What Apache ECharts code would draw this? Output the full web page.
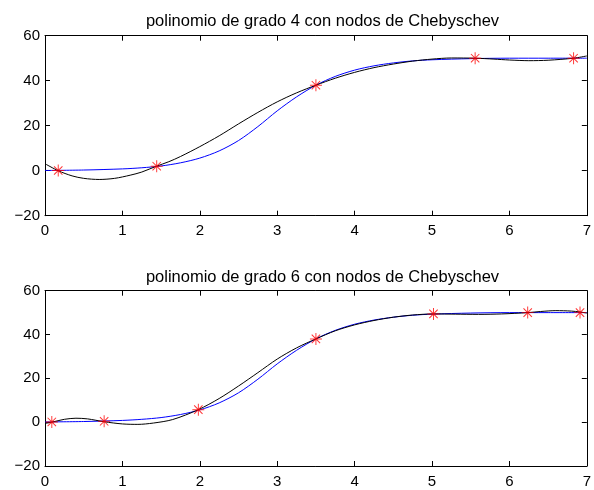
<!DOCTYPE html>
<html>
<head>
<meta charset="utf-8">
<script src="https://cdn.jsdelivr.net/npm/echarts@6/dist/echarts.min.js"></script>
<style>html,body{margin:0;padding:0;background:#fff}#c{width:594px;height:490px}</style>
</head>
<body>
<div id="c"></div>
<script>
// Data
const titles = ['polinomio de grado 4 con nodos de Chebyschev', 'polinomio de grado 6 con nodos de Chebyschev'];
const xTicks = [0, 1, 2, 3, 4, 5, 6, 7];
const yTicks = [-20, 0, 20, 40, 60];

// blue: original function (same in both panels)
const fX = [0, 0.5, 1, 1.25, 1.5, 1.75, 2, 2.25, 2.5, 2.75, 3, 3.25, 3.5, 3.75, 4, 4.25, 4.5, 4.75, 5, 5.5, 6, 6.5, 7];
const fY = [0.1, 0.3, 0.8, 1.3, 2.1, 3.5, 5.6, 8.8, 13.4, 19.6, 26.6, 32.8, 38, 41.9, 44.7, 46.6, 47.9, 48.8, 49.3, 49.8, 50, 50, 50];

// black: degree 4 interpolant
const p4X = [0, 0.17, 0.35, 0.5, 0.7, 0.9, 1.1, 1.25, 1.44, 1.6, 1.75, 2, 2.25, 2.5, 2.75, 3, 3.25, 3.5, 3.75, 4, 4.25, 4.5, 4.75, 5, 5.25, 5.56, 5.8, 6, 6.25, 6.5, 6.83, 7];
const p4Y = [3.1, 0, -2.3, -3.4, -3.9, -3.4, -2.0, -0.6, 2, 4.0, 6.3, 10.7, 15.5, 20.8, 25.9, 30.6, 34.6, 38, 41.1, 43.7, 45.8, 47.4, 48.7, 49.6, 50.1, 50, 49.6, 49.2, 48.9, 49.1, 50, 51];

// black: degree 6 interpolant
const p6X = [0, 0.088, 0.25, 0.4, 0.55, 0.764, 1, 1.2, 1.4, 1.65, 1.98, 2.25, 2.5, 2.75, 3, 3.25, 3.5, 3.75, 4, 4.25, 4.5, 4.75, 5.02, 5.3, 5.6, 5.9, 6.24, 6.4, 6.6, 6.8, 6.91, 7];
const p6Y = [-0.6, 0, 1.3, 1.8, 1.5, 0.2, -0.8, -1.0, -0.4, 1.2, 5.7, 10.8, 16.5, 22.6, 28.8, 33.9, 38, 41.7, 44.4, 46.4, 47.9, 48.9, 49.4, 49.3, 49.2, 49.4, 50, 50.5, 50.9, 50.7, 50.3, 49.8];

// red stars: Chebyshev nodes
const n4X = [0.171, 1.443, 3.5, 5.557, 6.829];
const n4Y = [0.1, 2.0, 38, 50, 50];
const n6X = [0.088, 0.764, 1.981, 3.5, 5.019, 6.236, 6.912];
const n6Y = [0.1, 0.4, 5.7, 38, 49.4, 50, 50];

const pairs = (xs, ys) => xs.map((x, i) => [x, ys[i]]);
const FONT = 'Liberation Sans, Arial, Helvetica, sans-serif';
const STAR = 'path://M-4 -50 L4 -50 L4 50 L-4 50 Z M-50 -4 L50 -4 L50 4 L-50 4 Z M-32 -38 L38 32 L32 38 L-38 -32 Z M-38 32 L32 -38 L38 -32 L-32 38 Z';

const grids = [
  { left: 45, top: 35.7, width: 545.3, height: 180 },
  { left: 45, top: 290.7, width: 545.3, height: 175.3 }
];

const line = { show: true, onZero: false, lineStyle: { color: '#000', width: 1 } };
const tick = { show: true, inside: true, length: 5, lineStyle: { color: '#000', width: 1 } };
const lbl = { color: '#000', fontFamily: FONT, fontSize: 15 };

const xAxis = [], yAxis = [];
grids.forEach((g, gi) => {
  xAxis.push({ type: 'value', gridIndex: gi, min: 0, max: 7, interval: 1, position: 'bottom',
    axisLine: line, axisTick: tick, splitLine: { show: false },
    axisLabel: Object.assign({ margin: 8, formatter: v => xTicks.includes(v) ? String(v) : '' }, lbl) });
  xAxis.push({ type: 'value', gridIndex: gi, min: 0, max: 7, interval: 1, position: 'top',
    axisLine: line, axisTick: tick, splitLine: { show: false }, axisLabel: { show: false } });
  yAxis.push({ type: 'value', gridIndex: gi, min: -20, max: 60, interval: 20, position: 'left',
    axisLine: line, axisTick: tick, splitLine: { show: false },
    axisLabel: Object.assign({ margin: 5, formatter: v => yTicks.includes(v) ? String(v).replace('-', '\u2212') : '' }, lbl) });
  yAxis.push({ type: 'value', gridIndex: gi, min: -20, max: 60, interval: 20, position: 'right',
    axisLine: line, axisTick: tick, splitLine: { show: false }, axisLabel: { show: false } });
});

function panel(gi, pX, pY, nX, nY) {
  return [
    { type: 'line', xAxisIndex: gi * 2, yAxisIndex: gi * 2, data: pairs(fX, fY), smooth: 0.3,
      showSymbol: false, symbol: 'none', lineStyle: { color: '#0000ff', width: 1 }, z: 2, silent: true },
    { type: 'line', xAxisIndex: gi * 2, yAxisIndex: gi * 2, data: pairs(pX, pY), smooth: 0.3,
      showSymbol: false, symbol: 'none', lineStyle: { color: '#000000', width: 1 }, z: 3, silent: true },
    { type: 'scatter', xAxisIndex: gi * 2, yAxisIndex: gi * 2, data: pairs(nX, nY), symbol: STAR,
      symbolSize: 12, itemStyle: { color: '#ff0000' }, z: 4, silent: true }
  ];
}

const chart = echarts.init(document.getElementById('c'), null, { renderer: 'canvas' });
chart.setOption({
  animation: false,
  backgroundColor: '#fff',
  title: [
    { text: titles[0], left: 317.5, top: 8, textAlign: 'center',
      textStyle: { fontFamily: FONT, fontSize: 16.5, fontWeight: 'normal', color: '#000' } },
    { text: titles[1], left: 317.5, top: 264, textAlign: 'center',
      textStyle: { fontFamily: FONT, fontSize: 16.5, fontWeight: 'normal', color: '#000' } }
  ],
  grid: grids,
  xAxis: xAxis,
  yAxis: yAxis,
  series: panel(0, p4X, p4Y, n4X, n4Y).concat(panel(1, p6X, p6Y, n6X, n6Y))
});
</script>
</body>
</html>
